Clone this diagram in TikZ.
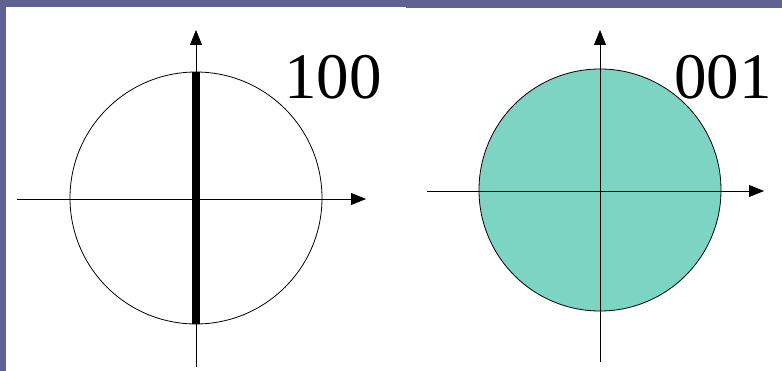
\documentclass[tikz,border=0pt]{standalone}
\usepackage{fontspec}
\setmainfont{Liberation Serif}
\usetikzlibrary{arrows.meta}
\definecolor{slidebg}{RGB}{95,98,144}
\definecolor{tealfill}{RGB}{125,212,194}
\tikzset{axisline/.style={line width=0.8pt,-{Triangle[length=15pt,width=12pt]}},
  hkllabel/.style={inner sep=0pt,anchor=base,font=\fontsize{65}{70}\selectfont}}
\begin{document}
\begin{tikzpicture}[x=1pt,y=-1pt]
        % background
        \fill [slidebg] (0,0) rectangle (782,371);
        \fill [white] (6,7) rectangle (406,371);
        \fill [white] (406,8) rectangle (782,371);
        % left: 100
        \draw [line width=0.8pt] (196,198) circle (126);
        \draw [axisline] (196,367) -- (196,30);
        \draw [axisline] (17,199) -- (366,199);
        \draw [line width=8pt] (196,72) -- (196,324);
        \node [hkllabel] (hkl1) at (333,99) {100};
        % right: 001
        \draw [line width=0.8pt,fill=tealfill] (600,190) circle (121);
        \draw [axisline] (600,362) -- (600,30);
        \draw [axisline] (427,191) -- (764,191);
        \node [hkllabel] (hkl2) at (723,99) {001};
\end{tikzpicture}
\end{document}
